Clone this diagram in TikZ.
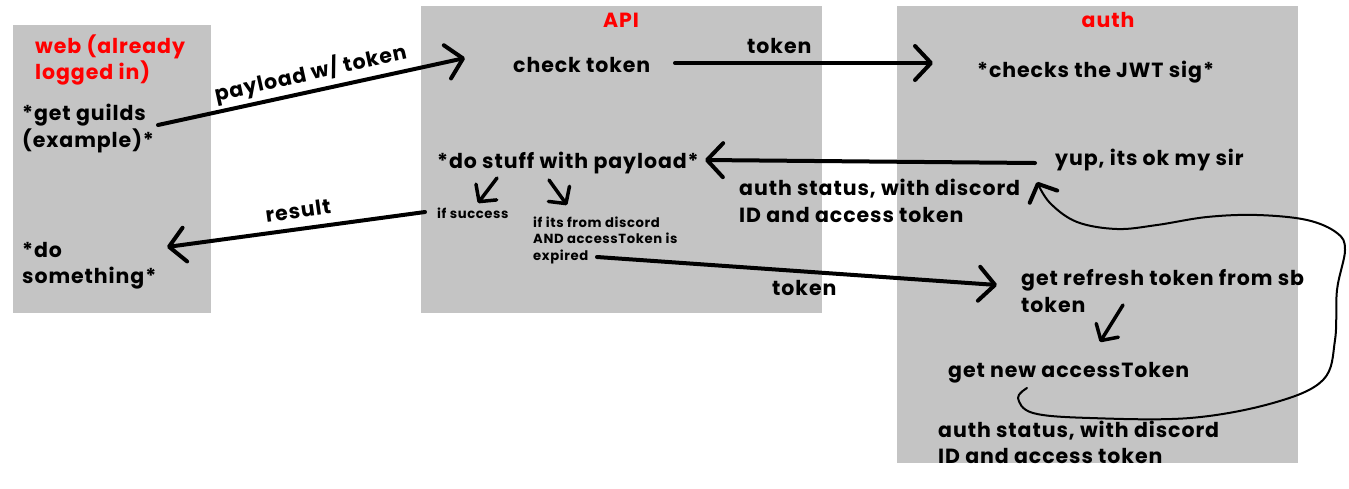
\documentclass[tikz,border=0pt]{standalone}
\usepackage{fontspec}
\setmainfont{Poppins}[LetterSpace=4.5]
\usetikzlibrary{arrows.meta}
\definecolor{panelgray}{RGB}{196,196,196}
\definecolor{titlered}{RGB}{255,0,0}
\begin{document}
\begin{tikzpicture}[x=1pt,y=-1pt,
  txt/.style={anchor=base west, inner sep=0pt, font=\fontsize{20.5}{24}\selectfont\bfseries},
  small/.style={anchor=base west, inner sep=0pt, font=\fontsize{13.2}{16}\selectfont\bfseries},
  ttl/.style={anchor=base, inner sep=0pt, text=titlered, font=\fontsize{20.5}{24}\selectfont\bfseries},
  arr/.style={line width=4pt, line cap=round, line join=round, -{Straight Barb[length=16pt,width=34pt,round]}},
  smallarr/.style={line width=3.5pt, line cap=round, line join=round, -{Straight Barb[length=12pt,width=26pt,round]}},
  curvearr/.style={line width=2pt, line cap=round, line join=round, -{Straight Barb[length=14pt,width=30pt,round,line width=4pt]}},
]
\useasboundingbox[fill=white] (0,0) rectangle (1349,488);
% panels
\fill[panelgray] (13,25) rectangle (211,313);
\fill[panelgray] (421,6) rectangle (822,313);
\fill[panelgray] (897,6) rectangle (1298,463);

% web panel
\node[txt, text=titlered] (web1) at (35,53) {web (already};
\node[txt, text=titlered] (web2) at (35,79) {logged in)};
\node[txt] (gg1) at (22,120) {*get guilds};
\node[txt] (gg2) at (22,147) {(example)*};
\node[txt] (ds1) at (22,257) {*do};
\node[txt] (ds2) at (22,283) {something*};

% API panel
\node[ttl] (api) at (621,27) {API};
\node[txt] (check) at (513,72) {check token};
\node[txt] (dostuff) at (437,168) {*do stuff with payload*};
\node[small] (succ) at (437,218) {if success};
\node[small] (exp1) at (533,227) {if its from discord};
\node[small] (exp2) at (533,243) {AND accessToken is};
\node[small] (exp3) at (533,260) {expired};

% auth panel
\node[ttl] (auth) at (1108,27) {auth};
\node[txt] (jwt) at (977,77) {*checks the JWT sig*};
\node[txt] (yup) at (1055,165) {yup, its ok my sir};
\node[txt] (st1) at (739,195) {auth status, with discord};
\node[txt] (st2) at (739,222) {ID and access token};
\node[txt] (ref1) at (1021,285) {get refresh token from sb};
\node[txt] (ref2) at (1021,312) {token};
\node[txt] (newt) at (948,377) {get new accessToken};
\node[txt] (st3) at (938,437) {auth status, with discord};
\node[txt] (st4) at (938,463) {ID and access token};

% edge labels
\node[txt, anchor=base, rotate=12.5] (lpay) at (312,80) {payload w/ token};
\node[txt, anchor=base, rotate=8] (lres) at (299,218) {result};
\node[txt] (ltok1) at (747,53) {token};
\node[txt] (ltok2) at (772,295) {token};

% connector end points
\coordinate (a1s) at (158,125); \coordinate (a1e) at (465,58);
\coordinate (a2s) at (675,63);  \coordinate (a2e) at (933,63);
\coordinate (a3s) at (1035,163); \coordinate (a3e) at (705,160);
\coordinate (a4s) at (425,212); \coordinate (a4e) at (167,247);
\coordinate (a5s) at (597,257); \coordinate (a5e) at (997,285);
\coordinate (a6s) at (497,178); \coordinate (a6e) at (478,203);
\coordinate (a7s) at (549,180); \coordinate (a7e) at (567,205);
\coordinate (a8s) at (1123,305); \coordinate (a8e) at (1100,342);
\coordinate (cs) at (1027,388); \coordinate (ce) at (1037,182);

\draw[arr] (a1s) -- (a1e);
\draw[arr] (a2s) -- (a2e);
\draw[arr] (a3s) -- (a3e);
\draw[arr] (a4s) -- (a4e);
\draw[arr] (a5s) -- (a5e);
\draw[smallarr] (a6s) -- (a6e);
\draw[smallarr] (a7s) -- (a7e);
\draw[smallarr] (a8s) -- (a8e);
\draw[curvearr] plot[smooth, tension=0.6] coordinates {(cs) (1018,398) (1033,413) (1090,418) (1190,418) (1273,403) (1323,380) (1335,340) (1337,290) (1345,250) (1337,233) (1307,220) (1257,215) (1207,217) (1157,225) (1117,229) (1077,222) (1050,203) (ce)};
\end{tikzpicture}
\end{document}
